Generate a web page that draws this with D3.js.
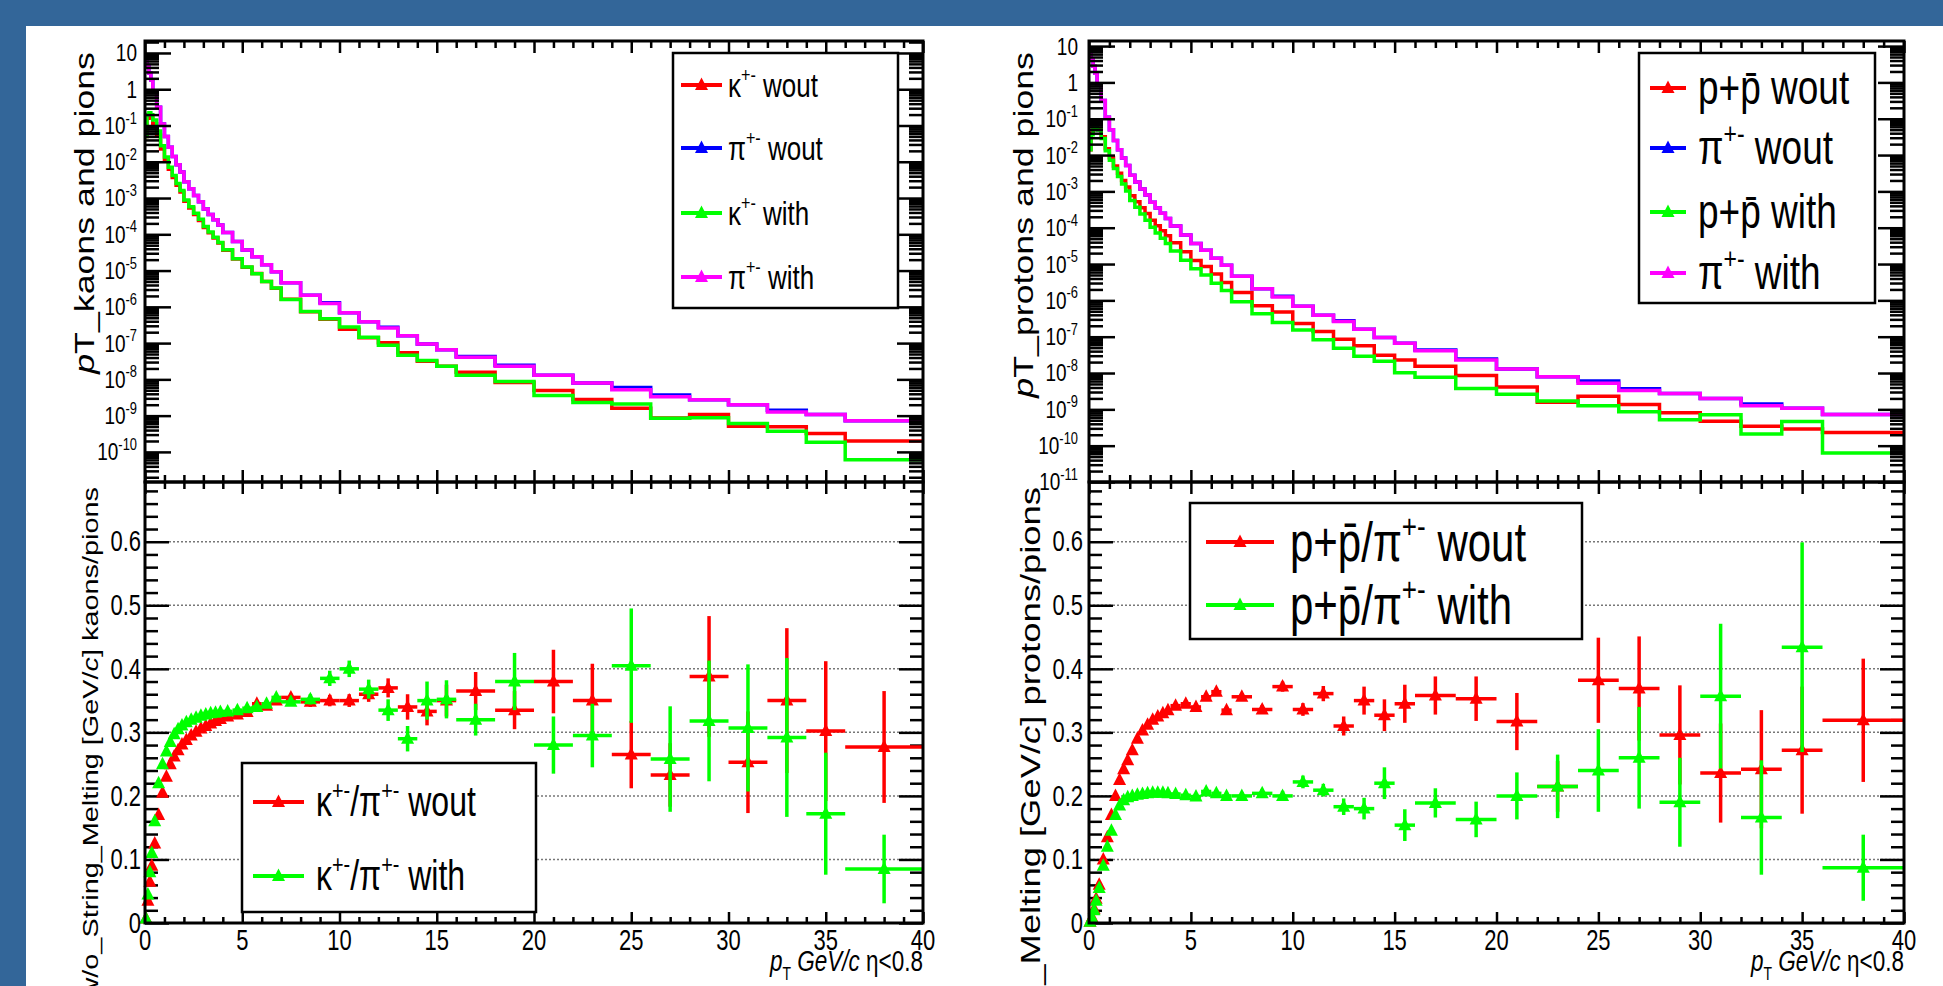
<!DOCTYPE html>
<html>
<head>
<meta charset="utf-8">
<script src="https://cdn.jsdelivr.net/npm/d3@7"></script>
<style>
  body { margin: 0; background: #fff; }
  text { font-family: "Liberation Sans", Arial, sans-serif; fill: #000; }
</style>
</head>
<body>
<svg id="chart" width="1943" height="986"></svg>
<script>
// ---- data (pT bins, GeV/c) ----
const binEdges = [0, 0.1, 0.2, 0.3, 0.4, 0.6, 0.8, 1.0, 1.2, 1.4, 1.6, 1.8, 2.0, 2.25, 2.5, 2.75, 3.0, 3.25, 3.5, 3.75, 4.0,
  4.5, 5.0, 5.5, 6.0, 6.5, 7, 8, 9, 10, 11, 12, 13, 14, 15, 16, 18, 20, 22, 24, 26, 28, 30, 32, 34, 36, 40]

const pionWout = [7.1, 4.5, 2.8, 1.8, 0.89, 0.32, 0.11, 0.05, 0.025, 0.014, 0.0083, 0.0052, 0.0028, 0.0018, 0.00117, 7.9e-4,
  5.0e-4, 3.5e-4, 2.5e-4, 1.8e-4, 1.12e-4, 6.3e-5, 3.7e-5, 2.4e-5, 1.45e-5, 9.3e-6, 4.6e-6, 2.1e-6, 1.3e-6, 6.9e-7,
  3.9e-7, 2.75e-7, 1.6e-7, 9.5e-8, 6.6e-8, 4.3e-8, 2.45e-8, 1.3e-8, 7.9e-9, 6.0e-9, 3.7e-9, 2.75e-9, 2.0e-9, 1.4e-9, 1.07e-9, 7.2e-10]
const pionWith = [7.1, 4.5, 2.8, 1.8, 0.89, 0.32, 0.11, 0.05, 0.025, 0.014, 0.0083, 0.0052, 0.0028, 0.0018, 0.00117, 7.9e-4,
  5.0e-4, 3.5e-4, 2.5e-4, 1.8e-4, 1.12e-4, 6.3e-5, 3.7e-5, 2.4e-5, 1.45e-5, 9.3e-6, 4.6e-6, 2.1e-6, 1.23e-6, 6.9e-7,
  3.9e-7, 2.6e-7, 1.6e-7, 9.5e-8, 6.6e-8, 4.1e-8, 2.3e-8, 1.3e-8, 7.9e-9, 5.2e-9, 3.3e-9, 2.75e-9, 2.0e-9, 1.26e-9, 1.07e-9, 7.2e-10]

const kaonWout = [0.05, 0.158, 0.182, 0.162, 0.111, 0.054, 0.0226, 0.0115, 0.00625, 0.00367, 0.00226, 0.00146, 8.1e-4, 5.3e-4,
  3.5e-4, 2.4e-4, 1.55e-4, 1.1e-4, 7.95e-5, 5.8e-5, 3.64e-5, 2.07e-5, 1.23e-5, 8.3e-6, 4.96e-6, 3.26e-6, 1.63e-6, 7.3e-7,
  4.55e-7, 2.4e-7, 1.4e-7, 1.02e-7, 5.4e-8, 3.16e-8, 2.3e-8, 1.57e-8, 8.2e-9, 4.9e-9, 2.8e-9, 1.6e-9, 8.6e-10, 1.07e-9,
  5.1e-10, 4.9e-10, 3.2e-10, 2.0e-10]
const kaonWith = [0.05, 0.2, 0.224, 0.198, 0.142, 0.07, 0.0275, 0.0135, 0.0071, 0.00416, 0.00253, 0.00162, 8.85e-4, 5.76e-4,
  3.78e-4, 2.58e-4, 1.64e-4, 1.16e-4, 8.3e-5, 5.98e-5, 3.73e-5, 2.11e-5, 1.25e-5, 8.2e-6, 5.0e-6, 3.3e-6, 1.6e-6, 7.4e-7,
  4.7e-7, 2.76e-7, 1.44e-7, 8.7e-8, 4.6e-8, 3.3e-8, 2.3e-8, 1.3e-8, 8.7e-9, 3.6e-9, 2.3e-9, 2.1e-9, 8.5e-10, 8.7e-10,
  6.1e-10, 3.7e-10, 1.84e-10, 6.1e-11]

const protonWout = [0.014, 0.04, 0.062, 0.068, 0.053, 0.032, 0.0149, 0.0085, 0.005, 0.00315, 0.00201, 0.00133, 7.6e-4, 5.2e-4,
  3.55e-4, 2.46e-4, 1.6e-4, 1.14e-4, 8.25e-5, 6.0e-5, 3.83e-5, 2.17e-5, 1.26e-5, 8.5e-6, 5.3e-6, 3.1e-6, 1.64e-6, 7.1e-7,
  4.8e-7, 2.3e-7, 1.4e-7, 8.5e-8, 5.6e-8, 3.1e-8, 2.3e-8, 1.54e-8, 8.6e-9, 4.1e-9, 1.58e-9, 2.3e-9, 1.37e-9, 8.1e-10,
  4.7e-10, 3.4e-10, 2.9e-10, 2.3e-10]
const protonWith = [0.014, 0.036, 0.056, 0.063, 0.049, 0.0288, 0.0132, 0.00725, 0.00425, 0.00259, 0.0016, 0.00103, 5.6e-4,
  3.64e-4, 2.38e-4, 1.61e-4, 1.03e-4, 7.2e-5, 5.1e-5, 3.67e-5, 2.27e-5, 1.27e-5, 7.4e-6, 4.97e-6, 2.96e-6, 1.86e-6, 9.2e-7,
  4.3e-7, 2.46e-7, 1.53e-7, 8.2e-8, 4.8e-8, 2.9e-8, 2.1e-8, 1.02e-8, 7.7e-9, 3.75e-9, 2.6e-9, 1.7e-9, 1.25e-9, 8.6e-10,
  5.2e-10, 7.1e-10, 2.1e-10, 4.6e-10, 6.3e-11]

const kpRatioWout = [0.007, 0.035, 0.065, 0.09, 0.125, 0.17, 0.205, 0.23, 0.25, 0.262, 0.272, 0.281, 0.288, 0.295, 0.301,
  0.306, 0.31, 0.314, 0.318, 0.321, 0.325, 0.328, 0.332, 0.345, 0.342, 0.35, 0.355, 0.348, 0.35, 0.35, 0.36, 0.37, 0.34,
  0.333, 0.35, 0.365, 0.335, 0.38, 0.35, 0.265, 0.233, 0.388, 0.253, 0.35, 0.302, 0.277]
const kpRatioWoutErr = [0.003, 0.003, 0.003, 0.003, 0.003, 0.003, 0.003, 0.003, 0.003, 0.003, 0.003, 0.003, 0.003, 0.003,
  0.003, 0.003, 0.003, 0.003, 0.003, 0.003, 0.005, 0.005, 0.005, 0.005, 0.005, 0.005, 0.006, 0.008, 0.009, 0.01, 0.012,
  0.015, 0.02, 0.022, 0.025, 0.03, 0.03, 0.05, 0.058, 0.053, 0.05, 0.095, 0.08, 0.114, 0.11, 0.088]
const kpRatioWith = [0.007, 0.045, 0.08, 0.11, 0.16, 0.22, 0.25, 0.27, 0.285, 0.297, 0.305, 0.311, 0.316, 0.32, 0.323,
  0.326, 0.328, 0.33, 0.331, 0.332, 0.333, 0.335, 0.338, 0.34, 0.345, 0.355, 0.348, 0.352, 0.385, 0.40, 0.368, 0.335, 0.29,
  0.35, 0.352, 0.32, 0.38, 0.28, 0.295, 0.405, 0.258, 0.318, 0.307, 0.292, 0.172, 0.085]
const kpRatioWithErr = [0.003, 0.003, 0.003, 0.003, 0.003, 0.003, 0.003, 0.003, 0.003, 0.003, 0.003, 0.003, 0.003, 0.003,
  0.003, 0.003, 0.003, 0.003, 0.003, 0.003, 0.005, 0.005, 0.005, 0.005, 0.005, 0.005, 0.006, 0.008, 0.012, 0.013, 0.015,
  0.017, 0.02, 0.03, 0.03, 0.025, 0.045, 0.045, 0.05, 0.09, 0.083, 0.095, 0.1, 0.125, 0.096, 0.054]

const ppRatioWout = [0.002, 0.009, 0.022, 0.038, 0.06, 0.1, 0.135, 0.17, 0.2, 0.225, 0.242, 0.256, 0.272, 0.29, 0.303, 0.312,
  0.32, 0.325, 0.33, 0.335, 0.342, 0.345, 0.34, 0.356, 0.364, 0.335, 0.356, 0.336, 0.372, 0.336, 0.361, 0.31, 0.35, 0.327,
  0.345, 0.358, 0.353, 0.317, 0.215, 0.382, 0.369, 0.296, 0.236, 0.242, 0.272, 0.319]
const ppRatioWoutErr = [0.003, 0.003, 0.003, 0.003, 0.003, 0.003, 0.003, 0.003, 0.003, 0.003, 0.003, 0.003, 0.003, 0.003,
  0.003, 0.003, 0.003, 0.003, 0.003, 0.003, 0.003, 0.003, 0.005, 0.005, 0.005, 0.005, 0.006, 0.007, 0.008, 0.01, 0.012,
  0.015, 0.022, 0.025, 0.03, 0.03, 0.035, 0.045, 0.04, 0.067, 0.082, 0.078, 0.078, 0.093, 0.1, 0.097]
const ppRatioWith = [0.002, 0.008, 0.02, 0.035, 0.055, 0.09, 0.12, 0.145, 0.17, 0.185, 0.193, 0.198, 0.2, 0.202, 0.203, 0.204,
  0.205, 0.205, 0.205, 0.204, 0.203, 0.201, 0.199, 0.207, 0.204, 0.2, 0.2, 0.204, 0.2, 0.222, 0.209, 0.183, 0.18, 0.22,
  0.154, 0.189, 0.163, 0.2, 0.215, 0.24, 0.26, 0.19, 0.357, 0.166, 0.434, 0.087]
const ppRatioWithErr = [0.003, 0.003, 0.003, 0.003, 0.003, 0.003, 0.003, 0.003, 0.003, 0.003, 0.003, 0.003, 0.003, 0.003,
  0.003, 0.003, 0.003, 0.003, 0.003, 0.003, 0.003, 0.003, 0.005, 0.005, 0.005, 0.005, 0.006, 0.007, 0.008, 0.01, 0.01,
  0.013, 0.017, 0.025, 0.025, 0.023, 0.028, 0.037, 0.05, 0.065, 0.08, 0.07, 0.114, 0.09, 0.165, 0.052]

// ---- tick labels ----
const xTickValues = [0, 5, 10, 15, 20, 25, 30, 35, 40]
const xTickLabels = ['0', '5', '10', '15', '20', '25', '30', '35', '40']
const ratioTickValues = [0, 0.1, 0.2, 0.3, 0.4, 0.5, 0.6]
const ratioTickLabels = ['0', '0.1', '0.2', '0.3', '0.4', '0.5', '0.6']
const leftExps = [1, 0, -1, -2, -3, -4, -5, -6, -7, -8, -9, -10]
const rightExps = [1, 0, -1, -2, -3, -4, -5, -6, -7, -8, -9, -10, -11]

const SUP = '+-'
const PBAR = 'p\u0304'
const leftTopLabels = [
  [{t: 'κ'}, {t: SUP, sup: true}, {t: ' wout'}],
  [{t: 'π'}, {t: SUP, sup: true}, {t: ' wout'}],
  [{t: 'κ'}, {t: SUP, sup: true}, {t: ' with'}],
  [{t: 'π'}, {t: SUP, sup: true}, {t: ' with'}]
]
const rightTopLabels = [
  [{t: 'p+' + PBAR + ' wout'}],
  [{t: 'π'}, {t: SUP, sup: true}, {t: ' wout'}],
  [{t: 'p+' + PBAR + ' with'}],
  [{t: 'π'}, {t: SUP, sup: true}, {t: ' with'}]
]
const leftBottomLabels = [
  [{t: 'κ'}, {t: SUP, sup: true}, {t: '/π'}, {t: SUP, sup: true}, {t: ' wout'}],
  [{t: 'κ'}, {t: SUP, sup: true}, {t: '/π'}, {t: SUP, sup: true}, {t: ' with'}]
]
const rightBottomLabels = [
  [{t: 'p+' + PBAR + '/π'}, {t: SUP, sup: true}, {t: ' wout'}],
  [{t: 'p+' + PBAR + '/π'}, {t: SUP, sup: true}, {t: ' with'}]
]

const RED = '#ff0000', BLUE_L = '#0000ff', GREEN = '#00ff00', MAGENTA = '#ff00ff'
const BG = '#336699'
const K = 1.3   // the picture is stretched vertically

const svg = d3.select('#chart')
svg.append('rect').attr('width', 1943).attr('height', 986).attr('fill', '#fff')
svg.append('rect').attr('width', 1943).attr('height', 26).attr('fill', BG)
svg.append('rect').attr('width', 26).attr('height', 986).attr('fill', BG)

function addText(x, y, segs, o) {
  const fs = o.size
  const t = svg.append('text')
    .attr('transform', `translate(${x},${y}) scale(1,${K})` + (o.rotate ? ' rotate(-90)' : ''))
    .attr('font-size', fs)
    .attr('text-anchor', o.anchor || 'start')
    .attr('y', o.dy || 0)
  let shift = 0
  segs.forEach(s => {
    const ts = t.append('tspan').text(s.t)
    const target = s.sup ? -0.42 * fs : s.sub ? 0.3 * fs : 0
    if (target - shift !== 0) ts.attr('dy', target - shift)
    shift = target
    if (s.sup || s.sub) ts.attr('font-size', fs * (o.supScale || 0.62))
    if (s.it) ts.attr('font-style', 'italic')
  })
  return t
}

function ticks(axisFn, scale, values, size, tx, ty) {
  svg.append('g').attr('transform', `translate(${tx},${ty})`)
    .call(axisFn(scale).tickValues(values).tickSize(size).tickFormat(''))
    .call(g => g.select('.domain').remove())
    .selectAll('line').attr('stroke', '#000').attr('stroke-width', 2.5)
}

const xMinor = d3.range(1, 40).filter(v => v % 5 !== 0)

function marker(g, cx, cy, color) {
  g.append('path').attr('d', 'M0,-7.5L6.5,5L-6.5,5Z')
    .attr('transform', `translate(${cx},${cy})`).attr('fill', color)
}

function legend(box, labels, colors, rows, lx, tx, fs) {
  svg.append('rect').attr('x', box[0]).attr('y', box[1]).attr('width', box[2] - box[0]).attr('height', box[3] - box[1])
    .attr('fill', '#fff').attr('stroke', '#000').attr('stroke-width', 2.5)
  labels.forEach((lab, i) => {
    const g = svg.append('g')
    g.append('line').attr('x1', lx[0]).attr('x2', lx[1]).attr('y1', rows[i]).attr('y2', rows[i])
      .attr('stroke', colors[i]).attr('stroke-width', 4)
    marker(g, (lx[0] + lx[1]) / 2, rows[i], colors[i])
    addText(tx, rows[i], lab, {size: fs, dy: 0.34 * fs})
  })
}

function drawTop(p, series, leg) {
  const x = d3.scaleLinear().domain([0, 40]).range([p.x0, p.x1])
  const y = d3.scaleLog().domain([Math.pow(10, p.logLo), Math.pow(10, p.logHi)]).range([p.yMid, p.yTop])
  const clipId = 'clipTop' + p.id
  svg.append('clipPath').attr('id', clipId).append('rect')
    .attr('x', p.x0).attr('y', p.yTop).attr('width', p.x1 - p.x0).attr('height', p.yMid - p.yTop)
  const line = d3.line().curve(d3.curveStepAfter).x(d => x(d[0])).y(d => y(d[1]))
  const g = svg.append('g').attr('clip-path', `url(#${clipId})`)
  series.forEach(s => {
    const pts = s.values.map((v, i) => [binEdges[i], v])
    pts.push([binEdges[binEdges.length - 1], s.values[s.values.length - 1]])
    g.append('path').attr('d', line(pts)).attr('fill', 'none')
      .attr('stroke', s.color).attr('stroke-width', 3.5)
  })

  const majors = p.exps.map(e => Math.pow(10, e))
  const minors = []
  for (let e = Math.floor(p.logLo); e <= Math.ceil(p.logHi); e++) {
    for (let m = 2; m <= 9; m++) {
      const v = m * Math.pow(10, e)
      if (Math.log10(v) > p.logLo && Math.log10(v) < p.logHi) minors.push(v)
    }
  }
  ticks(d3.axisRight, y, majors, 26, p.x0, 0)
  ticks(d3.axisRight, y, minors, 14, p.x0, 0)
  ticks(d3.axisLeft, y, majors, 26, p.x1, 0)
  ticks(d3.axisLeft, y, minors, 14, p.x1, 0)
  ticks(d3.axisBottom, x, xTickValues, 12, 0, p.yTop)
  ticks(d3.axisBottom, x, xMinor, 7, 0, p.yTop)
  ticks(d3.axisTop, x, xTickValues, 12, 0, p.yMid)
  ticks(d3.axisTop, x, xMinor, 7, 0, p.yMid)

  p.exps.forEach(e => {
    const segs = e === 0 ? [{t: '1'}] : e === 1 ? [{t: '10'}] : [{t: '10'}, {t: String(e), sup: true}]
    addText(p.labelX, y(Math.pow(10, e)), segs, {size: 19, anchor: 'end', dy: 6.5, supScale: 0.68})
  })
  addText(p.titleX, p.yTop + 11, p.topTitle, {size: 27.5, anchor: 'end', rotate: true})

  legend(leg.box, leg.labels, series.map(s => s.color), leg.rows, leg.lx, leg.tx, leg.fs)
}

function drawRatio(p, series, leg) {
  const x = d3.scaleLinear().domain([0, 40]).range([p.x0, p.x1])
  const y = d3.scaleLinear().domain([0, 0.694]).range([p.yBot, p.yMid])

  svg.append('g').selectAll('line').data(ratioTickValues.filter(v => v > 0)).join('line')
    .attr('x1', p.x0).attr('x2', p.x1).attr('y1', d => y(d)).attr('y2', d => y(d))
    .attr('stroke', '#777').attr('stroke-width', 1.5).attr('stroke-dasharray', '2,2')

  const minorY = d3.range(1, 35).map(i => i * 0.02).filter(v => Math.round(v * 100) % 10 !== 0)
  ticks(d3.axisRight, y, ratioTickValues, 24, p.x0, 0)
  ticks(d3.axisRight, y, minorY, 13, p.x0, 0)
  ticks(d3.axisLeft, y, ratioTickValues, 24, p.x1, 0)
  ticks(d3.axisLeft, y, minorY, 13, p.x1, 0)
  ticks(d3.axisBottom, x, xTickValues, 12, 0, p.yMid)
  ticks(d3.axisBottom, x, xMinor, 7, 0, p.yMid)
  ticks(d3.axisTop, x, xTickValues, 11, 0, p.yBot)
  ticks(d3.axisTop, x, xMinor, 6, 0, p.yBot)

  series.forEach(s => {
    const pts = s.values.map((v, i) => ({lo: binEdges[i], hi: binEdges[i + 1], v: v, e: s.errs[i]}))
    const g = svg.append('g')
    g.selectAll('line.h').data(pts).join('line').attr('class', 'h')
      .attr('x1', d => x(d.lo)).attr('x2', d => x(d.hi)).attr('y1', d => y(d.v)).attr('y2', d => y(d.v))
      .attr('stroke', s.color).attr('stroke-width', 3.5)
    g.selectAll('line.v').data(pts).join('line').attr('class', 'v')
      .attr('x1', d => x((d.lo + d.hi) / 2)).attr('x2', d => x((d.lo + d.hi) / 2))
      .attr('y1', d => y(Math.max(0, d.v - d.e))).attr('y2', d => y(d.v + d.e))
      .attr('stroke', s.color).attr('stroke-width', 3.5)
    g.selectAll('path').data(pts).join('path').attr('d', 'M0,-7.5L6.5,5L-6.5,5Z')
      .attr('transform', d => `translate(${x((d.lo + d.hi) / 2)},${y(d.v)})`).attr('fill', s.color)
  })

  ratioTickValues.forEach((v, i) => {
    addText(p.rLabelX, y(v), [{t: ratioTickLabels[i]}], {size: 22, anchor: 'end', dy: 7.5})
  })
  xTickValues.forEach((v, i) => {
    addText(x(v), p.yBot + 27, [{t: xTickLabels[i]}], {size: 22, anchor: 'middle', dy: 0})
  })
  addText(p.x1, p.yBot + 48, [{t: 'p', it: true}, {t: 'T', sub: true}, {t: ' GeV/', it: true}, {t: 'c', it: true}, {t: ' η<0.8'}],
    {size: 22.5, anchor: 'end'})
  addText(p.bTitleX, p.yMid + 5, p.bottomTitle, {size: p.bTitleSize, anchor: 'end', rotate: true})

  legend(leg.box, leg.labels, series.map(s => s.color), leg.rows, leg.lx, leg.tx, leg.fs)

  // frames
  svg.append('rect').attr('x', p.x0).attr('y', p.yTop).attr('width', p.x1 - p.x0).attr('height', p.yMid - p.yTop)
    .attr('fill', 'none').attr('stroke', '#000').attr('stroke-width', 3)
  svg.append('rect').attr('x', p.x0).attr('y', p.yMid).attr('width', p.x1 - p.x0).attr('height', p.yBot - p.yMid)
    .attr('fill', 'none').attr('stroke', '#000').attr('stroke-width', 3)
}

const leftPanel = {
  id: 'L', x0: 145, x1: 923, yTop: 41, yMid: 482, yBot: 923, logLo: -10.83, logHi: 1.33, exps: leftExps,
  labelX: 137, rLabelX: 141, titleX: 94, bTitleX: 98, bTitleSize: 22.2,
  topTitle: [{t: 'p', it: true}, {t: 'T_kaons and pions'}],
  bottomTitle: [{t: 'p', it: true}, {t: 'T_w/o_String_Melting [GeV/'}, {t: 'c', it: true}, {t: '] kaons/pions'}]
}
const rightPanel = {
  id: 'R', x0: 1089, x1: 1904, yTop: 41, yMid: 482, yBot: 923, logLo: -11, logHi: 1.14, exps: rightExps,
  labelX: 1078, rLabelX: 1083, titleX: 1033, bTitleX: 1040, bTitleSize: 28,
  topTitle: [{t: 'p', it: true}, {t: 'T_protons and pions'}],
  bottomTitle: [{t: 'p', it: true}, {t: 'T_w/o_String_Melting [GeV/'}, {t: 'c', it: true}, {t: '] protons/pions'}]
}

drawTop(leftPanel, [
  {values: kaonWout, color: RED}, {values: pionWout, color: BLUE_L},
  {values: kaonWith, color: GREEN}, {values: pionWith, color: MAGENTA}
], {box: [673, 53, 898, 308], labels: leftTopLabels, rows: [85, 148, 213, 277], lx: [681, 722], tx: 728, fs: 26})

drawRatio(leftPanel, [
  {values: kpRatioWout, errs: kpRatioWoutErr, color: RED},
  {values: kpRatioWith, errs: kpRatioWithErr, color: GREEN}
], {box: [242, 763, 536, 912], labels: leftBottomLabels, rows: [802, 876], lx: [253, 304], tx: 316, fs: 32})

drawTop(rightPanel, [
  {values: protonWout, color: RED}, {values: pionWout, color: BLUE_L},
  {values: protonWith, color: GREEN}, {values: pionWith, color: MAGENTA}
], {box: [1639, 53, 1875, 303], labels: rightTopLabels, rows: [88, 148, 212, 273], lx: [1650, 1686], tx: 1698, fs: 37})

drawRatio(rightPanel, [
  {values: ppRatioWout, errs: ppRatioWoutErr, color: RED},
  {values: ppRatioWith, errs: ppRatioWithErr, color: GREEN}
], {box: [1190, 503, 1582, 639], labels: rightBottomLabels, rows: [542, 605], lx: [1206, 1274], tx: 1290, fs: 42})
</script>
</body>
</html>
